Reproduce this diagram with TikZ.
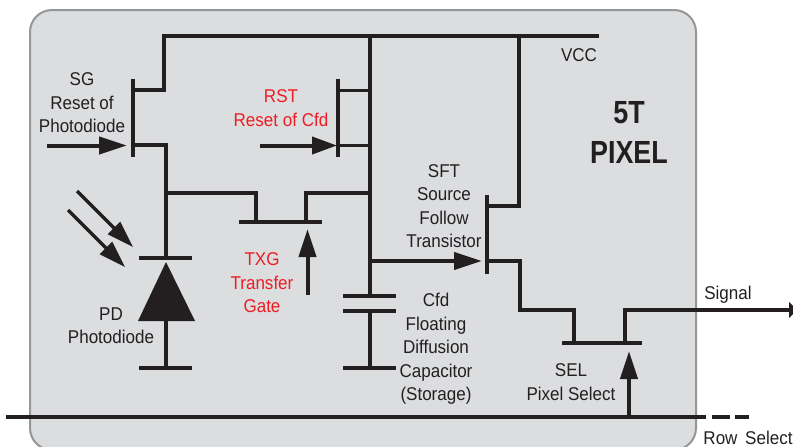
\documentclass[tikz,border=0pt]{standalone}
\usepackage{fontspec}
\setmainfont[FakeStretch=0.92,BoldFeatures={FakeStretch=0.84}]{Liberation Sans}
\usetikzlibrary{arrows.meta}
\definecolor{ink}{HTML}{231F20}
\definecolor{redtxt}{HTML}{ED1C24}
\definecolor{panel}{HTML}{DCDDDF}
\definecolor{panelline}{HTML}{949698}
\tikzset{
  wire/.style={draw=ink,line width=4pt,line join=miter},
  thinwire/.style={draw=ink,line width=3.2pt},
  sig/.style={draw=ink,line width=4pt,-{Triangle[length=28pt,width=17pt,fill=ink]}},
  sigshort/.style={draw=ink,line width=4pt,-{Triangle[length=25pt,width=17pt,fill=ink]}},
  ray/.style={draw=ink,line width=3.4pt,-{Triangle[length=27pt,width=17pt,fill=ink]}},
  lab/.style={inner sep=0pt,align=center,text=ink,yshift=-1pt,font=\fontsize{18.5}{23.4}\selectfont},
  redlab/.style={lab,text=redtxt},
  biglab/.style={inner sep=0pt,align=center,text=ink,font=\fontsize{32}{40}\selectfont\bfseries}
}
\begin{document}
\begin{tikzpicture}[x=1pt,y=-1pt]
\useasboundingbox (0,0) rectangle (793,447);
\clip (0,0) rectangle (793,447);
\draw[fill=panel,draw=panelline,line width=2pt,rounded corners=22pt] (30,10) rectangle (696,450);

% junctions
\coordinate (vccL) at (164,36);
\coordinate (vccN) at (369.5,36);
\coordinate (vccS) at (519,36);
\coordinate (vccR) at (599,36);
\coordinate (sgTop) at (132.5,79);
\coordinate (sgBot) at (132.5,157);
\coordinate (sgD) at (132.5,90);
\coordinate (sgS) at (132.5,145);
\coordinate (pdN) at (166,193);
\coordinate (pdBarL) at (139,258);
\coordinate (pdBarR) at (192,258);
\coordinate (pdC) at (166,258);
\coordinate (pdA) at (166,320);
\coordinate (gndC) at (166,368);
\coordinate (gndL) at (139,368);
\coordinate (gndR) at (192,368);
\coordinate (rstTop) at (338,79);
\coordinate (rstBot) at (338,157);
\coordinate (rstD) at (338,90.5);
\coordinate (rstS) at (338,145.5);
\coordinate (fdTx) at (369.5,193);
\coordinate (fdSf) at (369.5,261);
\coordinate (capT) at (369.5,296);
\coordinate (capB) at (369.5,311);
\coordinate (capG) at (369.5,368);
\coordinate (txBarL) at (239,222);
\coordinate (txBarR) at (322,222);
\coordinate (txA) at (256,222);
\coordinate (txB) at (306,222);
\coordinate (sfTop) at (487,195);
\coordinate (sfBot) at (487,274);
\coordinate (sfD) at (487,206);
\coordinate (sfS) at (487,261);
\coordinate (selBarL) at (562,343);
\coordinate (selBarR) at (642,343);
\coordinate (selA) at (574,343);
\coordinate (selB) at (625,343);
\coordinate (rowL) at (6,417);
\coordinate (rowR) at (706,417);
\coordinate (rowD) at (629,417);

% wires
\draw[wire] (vccR) -- (vccL) -- (vccL |- sgD) -- (sgD);
\draw[wire] (sgTop) -- (sgBot);
\draw[wire] (sgS) -| (pdC);
\draw[wire] (pdBarL) -- (pdBarR);
\draw[wire] (pdA) -- (gndC);
\draw[wire] (gndL) -- (gndR);
\draw[fill=ink,draw=none] (166,262) -- (195,321) -- (138,321) -- cycle;
\draw[wire] (vccN) -- (capT);
\draw[wire] (capB) -- (capG);
\draw[wire] (343,296) -- (396,296);
\draw[wire] (343,311) -- (396,311);
\draw[wire] (343,368) -- (396,368);
\draw[wire] (rstTop) -- (rstBot);
\draw[thinwire] (rstD) -- (vccN |- rstD);
\draw[thinwire] (rstS) -- (vccN |- rstS);
\draw[thinwire] (pdN) -| (txA);
\draw[thinwire] (txB) |- (fdTx);
\draw[wire] (txBarL) -- (txBarR);
\draw[wire] (vccS) -- (vccS |- sfD) -- (sfD);
\draw[wire] (sfTop) -- (sfBot);
\draw[wire] (sfS) -- (519.5,261) -- (519.5,310) -- (574,310) -- (selA);
\draw[wire] (selBarL) -- (selBarR);
\draw[wire] (selB) -- (625,310) -- (790,310);
\draw[draw=none,fill=ink] (789,302) -- (789,318) -- (797,310) -- cycle;
\draw[wire] (rowL) -- (rowR);
\draw[wire] (712,417) -- (730,417);
\draw[wire] (735,417) -- (749,417);

% arrows
\coordinate (sgIn) at (47,145.5);
\coordinate (sgTip) at (127,145.5);
\coordinate (rstIn) at (260,145.5);
\coordinate (rstTip) at (337,145.5);
\coordinate (txIn) at (307.5,295);
\coordinate (txTip) at (307.5,229);
\coordinate (sfTip) at (482,261);
\coordinate (selTip) at (629,351);
\coordinate (ray1S) at (77,191);
\coordinate (ray1E) at (133,247);
\coordinate (ray2S) at (68,210);
\coordinate (ray2E) at (125,267);
\draw[sig] (sgIn) -- (sgTip);
\draw[sigshort] (rstIn) -- (rstTip);
\draw[sig] (txIn) -- (txTip);
\draw[sig] (fdSf) -- (sfTip);
\draw[sig] (rowD) -- (selTip);
\draw[ray] (ray1S) -- (ray1E);
\draw[ray] (ray2S) -- (ray2E);

% labels
\node[lab] (sgL) at (82,102) {SG\\Reset of\\Photodiode};
\node[redlab] (rstL) at (281,107) {RST\\Reset of Cfd};
\node[redlab] (txL) at (262,282) {TXG\\Transfer\\Gate};
\node[lab] (pdL) at (111,325) {PD\\Photodiode};
\node[lab] (sfL) at (444,205) {SFT\\Source\\Follow\\Transistor};
\node[lab] (cfL) at (436,348) {Cfd\\Floating\\Diffusion\\Capacitor\\(Storage)};
\node[lab] (selL) at (571,381) {SEL\\Pixel Select};
\node[lab] (vccT) at (579,54) {VCC};
\node[lab] (sigT) at (728,294) {Signal};
\node[lab] (rowT) at (748,437) {Row\hspace{3pt} Select};
\node[biglab] (bigL) at (629,132) {5T\\PIXEL};
\end{tikzpicture}
\end{document}
